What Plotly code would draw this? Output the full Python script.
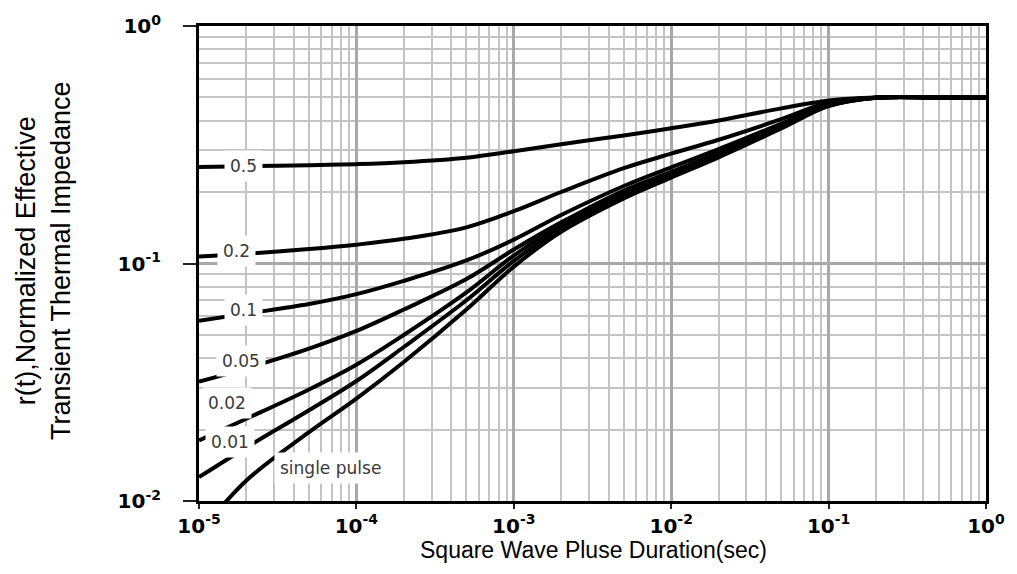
import math
import plotly.graph_objects as go

# ---- data ----
t = [1e-5, 2e-5, 5e-5, 1e-4, 2e-4, 5e-4, 1e-3, 2e-3, 5e-3, 1e-2, 2e-2, 5e-2, 1e-1, 2e-1, 5e-1, 1.0]

r_050 = [0.255, 0.257, 0.259, 0.262, 0.267, 0.279, 0.297, 0.318, 0.346, 0.371, 0.400, 0.450, 0.486, 0.500, 0.500, 0.500]
r_020 = [0.107, 0.110, 0.115, 0.120, 0.127, 0.142, 0.166, 0.200, 0.252, 0.290, 0.332, 0.405, 0.476, 0.499, 0.500, 0.500]
r_010 = [0.0574, 0.0615, 0.0675, 0.0743, 0.0845, 0.103, 0.126, 0.160, 0.212, 0.254, 0.303, 0.388, 0.470, 0.499, 0.500, 0.500]
r_005 = [0.0318, 0.0362, 0.0438, 0.0520, 0.0640, 0.0860, 0.1145, 0.149, 0.203, 0.243, 0.293, 0.383, 0.466, 0.499, 0.500, 0.500]
r_002 = [0.018, 0.0222, 0.0295, 0.0375, 0.0500, 0.0755, 0.108, 0.145, 0.196, 0.238, 0.288, 0.378, 0.464, 0.499, 0.500, 0.500]
r_001 = [0.0126, 0.0168, 0.0241, 0.0320, 0.0445, 0.0700, 0.1025, 0.140, 0.192, 0.234, 0.284, 0.374, 0.462, 0.499, 0.500, 0.500]
r_single = [0.0073, 0.0122, 0.0195, 0.0270, 0.0385, 0.0640, 0.0970, 0.136, 0.188, 0.230, 0.280, 0.370, 0.460, 0.499, 0.500, 0.500]

series = [r_050, r_020, r_010, r_005, r_002, r_001, r_single]

label_text = ["0.5", "0.2", "0.1", "0.05", "0.02", "0.01", "single pulse"]
label_t = [1.93e-5, 1.73e-5, 1.91e-5, 1.85e-5, 1.50e-5, 1.57e-5, 6.84e-5]
label_r = [0.2576, 0.1132, 0.0638, 0.0388, 0.0258, 0.01774, 0.01371]

x_tickvals = [1e-5, 1e-4, 1e-3, 1e-2, 1e-1, 1.0]
x_ticktext = ["10<sup>-5</sup>", "10<sup>-4</sup>", "10<sup>-3</sup>", "10<sup>-2</sup>", "10<sup>-1</sup>", "10<sup>0</sup>"]
y_tickvals = [0.01, 0.1, 1.0]
y_ticktext = ["10<sup>-2</sup>", "10<sup>-1</sup>", "10<sup>0</sup>"]

x_title = "Square Wave Pluse Duration(sec)"
y_title_lines = ["r(t),Normalized Effective", "Transient Thermal Impedance"]

x_minor = [k * 10.0 ** e for e in range(-5, 0) for k in range(2, 10)]
y_minor = [k * 10.0 ** e for e in range(-2, 0) for k in range(2, 10)]

fig = go.Figure()
for ys in series:
    fig.add_trace(go.Scatter(
        x=t, y=ys, mode="lines",
        line=dict(color="black", width=4, shape="spline", smoothing=1.0),
        showlegend=False, hoverinfo="skip",
    ))

for txt, lx, ly in zip(label_text, label_t, label_r):
    fig.add_annotation(
        x=math.log10(lx), y=math.log10(ly), xref="x", yref="y",
        text=txt, showarrow=False, bgcolor="white", borderpad=5,
        font=dict(family="DejaVu Sans", size=17, color="#3a3a3a"),
        xanchor="center", yanchor="middle",
    )

fig.add_annotation(
    x=(595 - 199) / 790, y=-(551 - 501) / 482, xref="paper", yref="paper",
    text=x_title, showarrow=False, xanchor="center", yanchor="middle",
    font=dict(family="Liberation Sans", size=23, color="black"),
)
for txt, px in zip(y_title_lines, [25, 60]):
    fig.add_annotation(
        x=(px - 199) / 790, y=1 - (257 - 19) / 482, xref="paper", yref="paper",
        text=txt, showarrow=False, xanchor="center", yanchor="middle", textangle=-90,
        font=dict(family="Liberation Sans", size=27, color="black"),
    )

axis_common = dict(
    type="log", showgrid=True, gridcolor="#a8a8a8", gridwidth=2.5,
    showline=True, linecolor="black", mirror=True, zeroline=False,
    ticks="outside", tickcolor="#222222", tickwidth=1.5,
    tickfont=dict(family="DejaVu Sans", size=20, color="black", weight="bold"),
)

fig.update_xaxes(
    **axis_common, range=[-5, 0], tickmode="array", tickvals=x_tickvals, ticktext=x_ticktext,
    linewidth=2.5, ticklen=5, ticklabelstandoff=0,
    minor=dict(tickmode="array", tickvals=x_minor, showgrid=True, gridcolor="#c4c4c4", gridwidth=2.2, ticks=""),
)
fig.update_yaxes(
    **axis_common, range=[-2, 0], tickmode="array", tickvals=y_tickvals, ticktext=y_ticktext,
    linewidth=3, ticklen=13, ticklabelstandoff=18,
    minor=dict(tickmode="array", tickvals=y_minor, showgrid=True, gridcolor="#c4c4c4", gridwidth=2.2, ticks=""),
)

fig.update_layout(
    width=1017, height=574,
    margin=dict(l=199, r=28, t=19, b=73),
    paper_bgcolor="white", plot_bgcolor="white",
)

fig.write_html(
    "out.html",
    config={"displayModeBar": False},
    post_script="document.body.style.margin='0';document.body.style.overflow='hidden';",
)
